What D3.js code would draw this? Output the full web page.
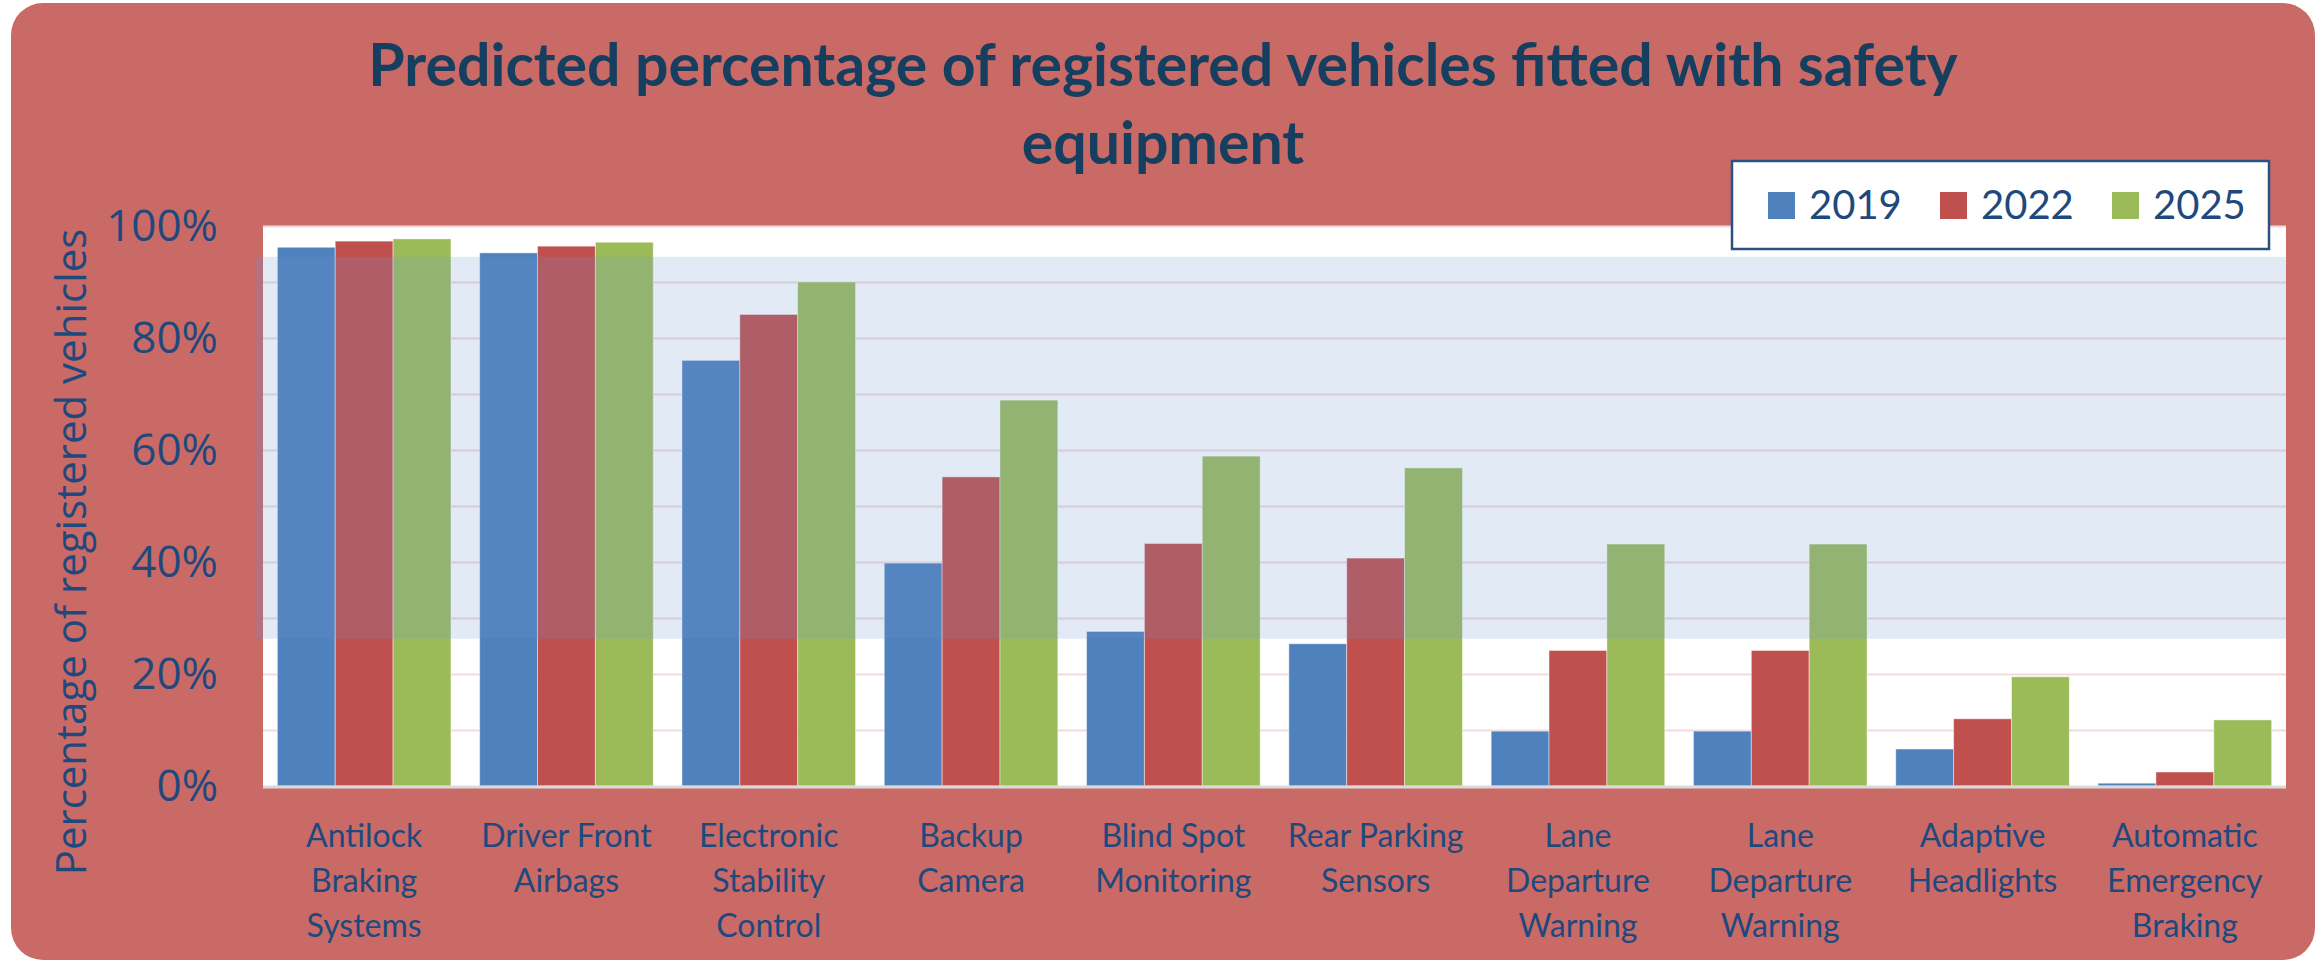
<!DOCTYPE html>
<html>
<head>
<meta charset="utf-8">
<script src="https://cdn.jsdelivr.net/npm/d3@7"></script>
<style>
  body { margin: 0; background: #ffffff; }
</style>
</head>
<body>
<div id="graph"></div>
<script>
const width = 2323, height = 963;
const plotLeft = 263, plotRight = 2286, plotTop = 226, plotBottom = 786;

const categories = ['Antilock Braking Systems', 'Driver Front Airbags', 'Electronic Stability Control',
  'Backup Camera', 'Blind Spot Monitoring', 'Rear Parking Sensors', 'Lane Departure Warning',
  'Lane Departure Warning', 'Adaptive Headlights', 'Automatic Emergency Braking'];
const years = ['2019', '2022', '2025'];
const values2019 = [96.2, 95.2, 76.0, 39.8, 27.6, 25.4, 9.8, 9.8, 6.6, 0.5];
const values2022 = [97.3, 96.4, 84.2, 55.2, 43.3, 40.7, 24.2, 24.2, 12.0, 2.5];
const values2025 = [97.7, 97.1, 90.0, 68.9, 58.9, 56.8, 43.2, 43.2, 19.5, 11.8];
const yTicks = [0, 20, 40, 60, 80, 100];
const gridTicks = [10, 20, 30, 40, 50, 60, 70, 80, 90, 100];

const colors = ['#4F81BD', '#C0504D', '#9BBB59'];
const textColor = '#1F497D';
// the pale blue highlight strip that sits over the bars
const stripRange = [26.3, 94.5];

const series = [values2019, values2022, values2025];
const rows = [];
categories.forEach((c, i) => {
  years.forEach((y, j) => rows.push({ cat: i, year: y, idx: j, value: series[j][i] }));
});

let svg =
d3.select('#graph').
append('svg').
attr('width', width).
attr('height', height);

// red card behind everything
svg.append('rect').
attr('x', 11).
attr('y', 3).
attr('width', 2304).
attr('height', 957).
attr('rx', 32).
style('fill', '#C96A67');

const xScale =
d3.scaleBand().
domain(d3.range(categories.length)).
range([plotLeft, plotRight]).
paddingInner(0.142).
paddingOuter(0.071);

const xSub =
d3.scaleBand().
domain(d3.range(years.length)).
range([0, xScale.bandwidth()]);

const yScale =
d3.scaleLinear().
domain([0, 100]).
range([plotBottom, plotTop]);

svg.append('rect').
attr('x', plotLeft).
attr('y', plotTop).
attr('width', plotRight - plotLeft).
attr('height', plotBottom - plotTop).
style('fill', '#ffffff');

// gridlines
svg.append('g').
attr('transform', 'translate(' + plotLeft + ',0)').
call(d3.axisLeft(yScale).tickValues(gridTicks).tickSize(-(plotRight - plotLeft)).tickFormat('')).
call(g => g.select('.domain').remove()).
call(g => g.selectAll('line').style('stroke', '#F2DADE').style('stroke-width', 2));

svg.selectAll('.bar').
data(rows).
enter().
append('rect').
attr('class', 'bar').
attr('x', d => xScale(d.cat) + xSub(d.idx)).
attr('y', d => yScale(d.value)).
attr('width', xSub.bandwidth()).
attr('height', d => yScale(0) - yScale(d.value)).
style('fill', d => colors[d.idx]).
style('stroke', 'rgba(255,255,255,0.45)').
style('stroke-width', 1);

svg.append('rect').
attr('x', plotLeft - 7).
attr('y', yScale(stripRange[1])).
attr('width', plotRight - plotLeft + 7).
attr('height', yScale(stripRange[0]) - yScale(stripRange[1])).
style('fill', 'rgb(110,150,210)').
style('opacity', 0.2);

// base line
svg.append('line').
attr('x1', plotLeft).
attr('x2', plotRight).
attr('y1', yScale(0) + 1).
attr('y2', yScale(0) + 1).
style('stroke', '#DADADA').
style('stroke-width', 3);

// y axis labels
svg.append('g').
attr('transform', 'translate(218,0)').
call(d3.axisLeft(yScale).tickValues(yTicks).tickSize(0).tickPadding(0).tickFormat(d => d + '%')).
call(g => g.select('.domain').remove()).
call(g => g.selectAll('text').
style('font-family', '"Open Sans", sans-serif').
style('font-size', '44px').
style('fill', textColor));

svg.append('text').
attr('transform', 'translate(86,552) rotate(-90)').
attr('text-anchor', 'middle').
style('font-family', '"Open Sans", sans-serif').
style('font-size', '42px').
style('fill', textColor).
text('Percentage of registered vehicles');

// category labels, wrapped like the original
svg.append('g').
attr('transform', 'translate(0,' + plotBottom + ')').
call(d3.axisBottom(xScale).tickSize(0).tickFormat('')).
call(g => g.select('.domain').remove());

const labelWidth = 200;
categories.forEach((name, i) => {
  const t = svg.append('text').
  attr('text-anchor', 'middle').
  style('font-family', 'Lato, sans-serif').
  style('font-size', '32px').
  style('fill', textColor);
  const words = name.split(' ');
  let lines = [], line = [];
  words.forEach(w => {
    const test = line.concat([w]).join(' ');
    t.text(test);
    if (t.node().getComputedTextLength() > labelWidth && line.length) {
      lines.push(line.join(' '));
      line = [w];
    } else {
      line.push(w);
    }
  });
  lines.push(line.join(' '));
  t.text(null);
  lines.forEach((l, k) => {
    t.append('tspan').
    attr('x', xScale(i) + xScale.bandwidth() / 2).
    attr('y', 847 + k * 45).
    text(l);
  });
});

// title
const title = svg.append('text').
attr('text-anchor', 'middle').
style('font-family', 'Lato, sans-serif').
style('font-weight', 'bold').
style('font-size', '59px').
style('fill', '#163E5E');
title.append('tspan').attr('x', 1163).attr('y', 86).text('Predicted percentage of registered vehicles fitted with safety');
title.append('tspan').attr('x', 1163).attr('y', 164).text('equipment');

// legend
const legend = svg.append('g');
legend.append('rect').
attr('x', 1732).
attr('y', 161).
attr('width', 537).
attr('height', 88).
style('fill', '#ffffff').
style('stroke', '#2B5082').
style('stroke-width', 2.5);

const items = legend.selectAll('.item').
data(years).
enter().
append('g').
attr('class', 'item').
attr('transform', (d, i) => 'translate(' + (1768 + i * 172) + ',192)');
items.append('rect').
attr('width', 27).
attr('height', 27).
style('fill', (d, i) => colors[i]);
items.append('text').
attr('x', 41).
attr('y', 27).
style('font-family', 'Lato, sans-serif').
style('font-size', '40px').
style('fill', textColor).
text(d => d);
</script>
</body>
</html>
